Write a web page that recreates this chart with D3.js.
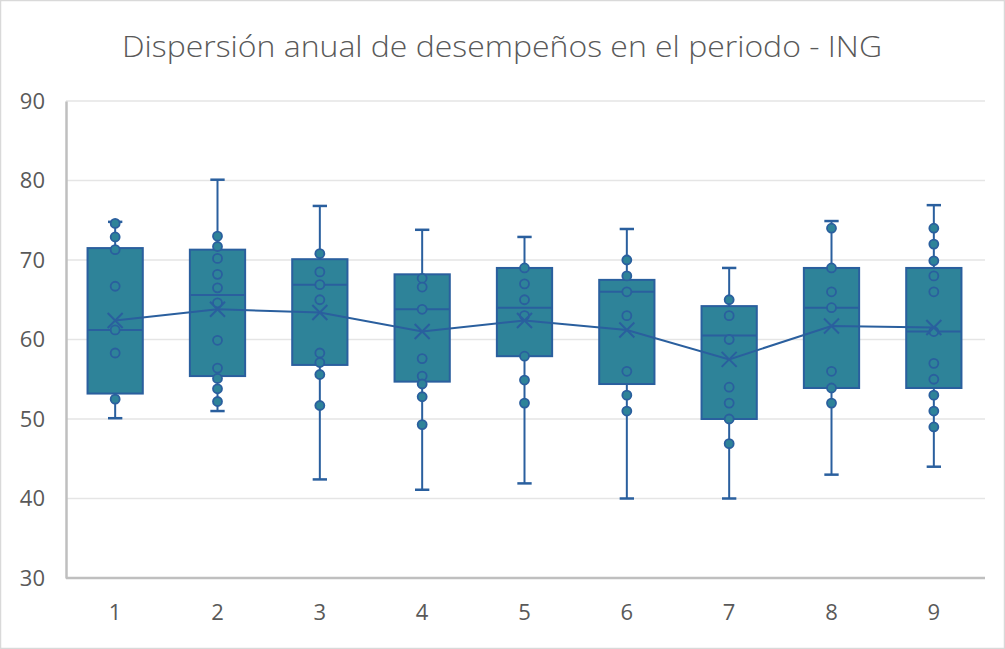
<!DOCTYPE html>
<html><head><meta charset="utf-8">
<script src="https://cdn.jsdelivr.net/npm/d3@7"></script>
<style>body{margin:0;background:#fff;}svg{display:block;}</style>
</head><body>
<svg id="chart" width="1005" height="649"></svg>
<script>
const title = "Dispersión anual de desempeños en el periodo - ING";
const categories = ["1","2","3","4","5","6","7","8","9"];
const yTicks = [30,40,50,60,70,80,90];
const whiskerLow  = [50.1, 51.0, 42.4, 41.1, 41.9, 40.0, 40.0, 43.0, 44.0];
const q1          = [53.2, 55.4, 56.8, 54.7, 57.9, 54.4, 50.0, 53.9, 53.9];
const medians     = [61.2, 65.6, 66.9, 63.8, 64.0, 66.0, 60.5, 64.0, 61.0];
const q3          = [71.5, 71.3, 70.1, 68.2, 69.0, 67.5, 64.2, 69.0, 69.0];
const whiskerHigh = [74.8, 80.1, 76.8, 73.8, 72.9, 73.9, 69.0, 74.9, 76.9];
const means       = [62.4, 63.8, 63.4, 61.0, 62.4, 61.2, 57.5, 61.7, 61.5];
const points1 = [74.6, 72.9, 71.3, 66.7, 61.2, 58.3, 52.5];
const points2 = [73.0, 71.7, 70.2, 68.2, 66.5, 64.6, 59.9, 56.4, 55.1, 53.8, 52.2];
const points3 = [70.8, 68.5, 66.9, 65.0, 58.3, 57.1, 55.6, 51.7];
const points4 = [67.7, 66.6, 63.8, 57.6, 55.4, 54.4, 52.8, 49.3];
const points5 = [69.0, 67.0, 65.0, 63.0, 57.9, 54.9, 52.0];
const points6 = [70.0, 68.0, 66.0, 63.0, 56.0, 53.0, 51.0];
const points7 = [65.0, 63.0, 60.0, 54.0, 52.0, 50.0, 46.9];
const points8 = [74.0, 69.0, 66.0, 64.0, 56.0, 53.9, 52.0];
const points9 = [74.0, 72.0, 69.9, 68.0, 66.0, 61.0, 57.0, 55.0, 53.0, 51.0, 49.0];
const points = [points1, points2, points3, points4, points5, points6, points7, points8, points9];

const svg = d3.select("#chart");
const W = 1005, H = 649;
const margin = {left: 64, right: 20, top: 101, bottom: 71};
const axisLeftX = 66;
const fill = "#2e8399", stroke = "#2a5f9e";

svg.append("rect").attr("x",0.5).attr("y",0.5).attr("width",W-1).attr("height",H-1)
  .attr("fill","#fff").attr("stroke","#d9d9d9").attr("stroke-width",1.5);

const x = d3.scaleBand().domain(categories).range([margin.left, W - margin.right]);
const y = d3.scaleLinear().domain([30, 90]).range([H - margin.bottom, margin.top]);

// title
svg.append("text").attr("x", 502).attr("y", 57).attr("text-anchor","middle")
  .attr("font-family","'Open Sans', sans-serif").attr("font-weight",300).attr("font-size", 29).attr("fill","#595959")
  .attr("textLength", 760).attr("lengthAdjust","spacingAndGlyphs")
  .text(title);

// gridlines
svg.append("g").selectAll("line").data(yTicks.filter(t => t !== 30)).join("line")
  .attr("x1", axisLeftX).attr("x2", W - margin.right)
  .attr("y1", d => y(d)).attr("y2", d => y(d))
  .attr("stroke","#e5e5e5").attr("stroke-width",1.5);

// y axis
const yAxis = svg.append("g").attr("transform",`translate(${axisLeftX},0)`)
  .call(d3.axisLeft(y).tickValues(yTicks).tickSize(0).tickPadding(21));
yAxis.select(".domain").attr("stroke","#bfbfbf").attr("stroke-width",2.5);
yAxis.selectAll("text").attr("font-family","'Open Sans', sans-serif").attr("font-size",22).attr("fill","#595959");

// x axis
const xAxis = svg.append("g").attr("transform",`translate(0,${H - margin.bottom})`)
  .call(d3.axisBottom(x).tickSize(0).tickPadding(26));
xAxis.select(".domain").attr("d", `M${axisLeftX},0H${W - margin.right}`)
  .attr("stroke","#bfbfbf").attr("stroke-width",2.5);
xAxis.selectAll("text").attr("font-family","'Open Sans', sans-serif").attr("font-size",22).attr("fill","#595959");

const bw = x.bandwidth() * 0.54;
const cx = i => x(categories[i]) + x.bandwidth()/2;
const capW = x.bandwidth() * 0.14;

const g = svg.append("g");
categories.forEach((c, i) => {
  const cxi = cx(i);
  g.append("line").attr("x1",cxi).attr("x2",cxi).attr("y1",y(whiskerHigh[i])).attr("y2",y(q3[i]))
    .attr("stroke",stroke).attr("stroke-width",2);
  g.append("line").attr("x1",cxi).attr("x2",cxi).attr("y1",y(q1[i])).attr("y2",y(whiskerLow[i]))
    .attr("stroke",stroke).attr("stroke-width",2);
  [whiskerHigh[i], whiskerLow[i]].forEach(v => {
    g.append("line").attr("x1",cxi-capW/2).attr("x2",cxi+capW/2).attr("y1",y(v)).attr("y2",y(v))
      .attr("stroke",stroke).attr("stroke-width",2.5);
  });
  g.append("rect").attr("x",cxi-bw/2).attr("width",bw).attr("y",y(q3[i])).attr("height",y(q1[i])-y(q3[i]))
    .attr("fill",fill).attr("stroke",stroke).attr("stroke-width",2);
  g.append("line").attr("x1",cxi-bw/2).attr("x2",cxi+bw/2).attr("y1",y(medians[i])).attr("y2",y(medians[i]))
    .attr("stroke",stroke).attr("stroke-width",2);
});

// mean line
svg.append("path").datum(means)
  .attr("d", d3.line().x((d,i) => cx(i)).y(d => y(d)))
  .attr("fill","none").attr("stroke",stroke).attr("stroke-width",2);

// points
categories.forEach((c, i) => {
  g.append("g").selectAll("circle").data(points[i]).join("circle")
    .attr("cx", cx(i)).attr("cy", d => y(d)).attr("r", 4.5)
    .attr("fill", fill).attr("stroke", stroke).attr("stroke-width", 1.8);
});

// mean markers
const ms = 7.5;
categories.forEach((c, i) => {
  const px = cx(i), py = y(means[i]);
  svg.append("path").attr("d", `M${px-ms},${py-ms}L${px+ms},${py+ms}M${px-ms},${py+ms}L${px+ms},${py-ms}`)
    .attr("stroke", stroke).attr("stroke-width", 2).attr("fill","none");
});
</script>
</body></html>
